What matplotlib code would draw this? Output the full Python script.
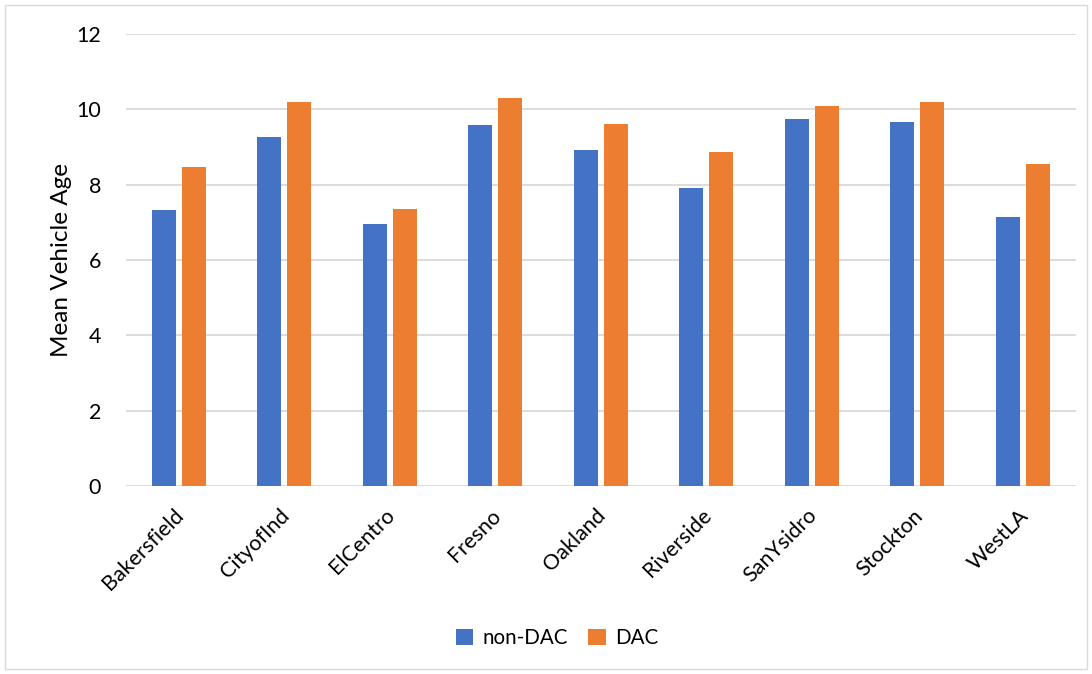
import matplotlib.pyplot as plt
import matplotlib.transforms as mtransforms
import numpy as np
from matplotlib.patches import Rectangle

plt.rcParams["font.family"] = ["Lato", "DejaVu Sans"]

cidades = ["Bakersfield", "CityofInd", "ElCentro", "Fresno", "Oakland",
           "Riverside", "SanYsidro", "Stockton", "WestLA"]
non_dac = [7.33, 9.26, 6.95, 9.57, 8.93, 7.91, 9.73, 9.67, 7.15]
dac = [8.48, 10.19, 7.35, 10.30, 9.62, 8.86, 10.10, 10.19, 8.56]

fig = plt.figure(figsize=(10.92, 6.74), dpi=100)
ax = fig.add_axes([0.1154, 0.279, 0.8696, 0.6706])

x = np.arange(len(cidades))
largura = 0.227
ax.bar(x - 0.142, non_dac, largura, color="#4472C4", label="non-DAC", zorder=3)
ax.bar(x + 0.142, dac, largura, color="#ED7D31", label="DAC", zorder=3)

ax.set_xlim(-0.5, len(cidades) - 0.5)
ax.set_ylim(0, 12)
ax.set_yticks(range(0, 13, 2))
ax.grid(axis="y", color="#d9d9d9", linewidth=1.3, zorder=0)
for s in ax.spines.values():
    s.set_visible(False)
ax.tick_params(length=0, labelsize=15.5, colors="#000000")
ax.tick_params(axis="y", pad=18)
ax.set_xticks(x)
ax.set_xticklabels(cidades, rotation=45, ha="right", rotation_mode="anchor")
ax.tick_params(axis="x", pad=14)
# leve deslocamento para a esquerda dos rótulos do eixo x
desloc = mtransforms.ScaledTranslation(-5 / 100, 0, fig.dpi_scale_trans)
for lbl in ax.get_xticklabels():
    lbl.set_transform(lbl.get_transform() + desloc)

ax.set_ylabel("Mean Vehicle Age", fontsize=17.5)
ax.yaxis.set_label_coords(-0.057, 0.5)

fig.legend(loc="center", bbox_to_anchor=(557 / 1092, 1 - 638 / 674), ncol=2,
           frameon=False, fontsize=14.8, handlelength=0.85, handleheight=0.85,
           columnspacing=1.0, handletextpad=0.45)

fig.patches.append(Rectangle((5 / 1092, 5 / 674), 1 - 10 / 1092, 1 - 10 / 674,
                             transform=fig.transFigure, fill=False,
                             edgecolor="#d9d9d9", linewidth=1))

fig.savefig("out.png", dpi=100)
